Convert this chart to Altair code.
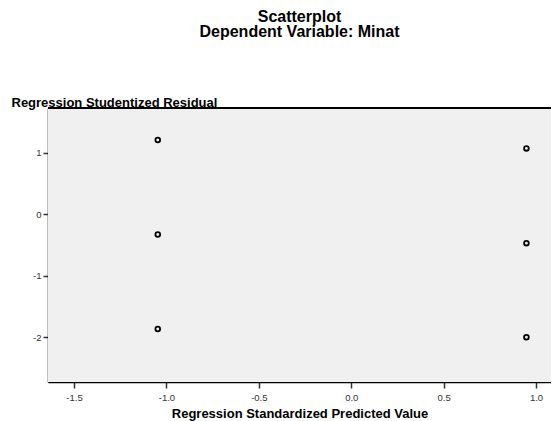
import altair as alt
import pandas as pd

pred = [-1.047, -1.047, -1.047, 0.948, 0.948, 0.948]
resid = [1.206, -0.33, -1.865, 1.07, -0.47, -2.0]
x_ticks = [-1.5, -1.0, -0.5, 0.0, 0.5, 1.0]
y_ticks = [-2, -1, 0, 1]

df = pd.DataFrame({"pred": pred, "resid": resid})

FONT = "Liberation Sans"
W, H = 503, 274
MINUS_FIX = "replace(datum.label, '\u2212', '-')"

bg = alt.Chart(df).mark_rect(fill="#F0F0F0").encode(
    x=alt.value(0), x2=alt.value(W), y=alt.value(0), y2=alt.value(H)
)

points = alt.Chart(df).mark_point(
    shape="circle", filled=False, stroke="black", strokeWidth=1.8, size=22, opacity=1
).encode(
    x=alt.X("pred:Q",
            scale=alt.Scale(domain=[-1.641, 1.081], nice=False, zero=False),
            axis=alt.Axis(values=x_ticks, format=".1f", labelExpr=MINUS_FIX, grid=False,
                          title="Regression Standardized Predicted Value",
                          titleFont=FONT, titleFontSize=13, titleFontWeight="bold",
                          titleColor="black", titlePadding=6,
                          labelFont=FONT, labelFontSize=9.5, labelColor="#333",
                          labelPadding=4,
                          tickSize=6, tickColor="#333", tickWidth=1.5,
                          domainColor="black", domainWidth=1.5)),
    y=alt.Y("resid:Q",
            scale=alt.Scale(domain=[-2.727, 1.727], nice=False, zero=False),
            axis=alt.Axis(values=y_ticks, format="d", labelExpr=MINUS_FIX, grid=False,
                          title="Regression Studentized Residual",
                          titleFont=FONT, titleFontSize=13, titleFontWeight="bold",
                          titleColor="black", titleAngle=0, titleAlign="left",
                          titleBaseline="alphabetic", titleX=-37, titleY=-2,
                          labelFont=FONT, labelFontSize=9.5, labelColor="#333",
                          labelPadding=2,
                          tickSize=5, tickColor="#333", tickWidth=1.5,
                          domainColor="black", domainWidth=1.5)),
)

top_border = alt.Chart(df).mark_rule(color="black", strokeWidth=1.5).encode(
    x=alt.value(0), x2=alt.value(W), y=alt.value(0)
)

chart = alt.layer(bg, points, top_border).properties(
    width=W, height=H,
    title=alt.TitleParams(
        text=["Scatterplot", "Dependent Variable: Minat"],
        font=FONT, fontSize=16, fontWeight="bold", color="black",
        anchor="middle", dx=0, offset=56, lineHeight=15.5,
    ),
    padding={"left": 40, "top": 100, "right": 0, "bottom": 39},
    autosize=alt.AutoSizeParams(type="none"),
).configure_view(
    stroke=None
).configure(background="white")

chart.save("out.html", embed_options={"renderer": "svg", "actions": False})
